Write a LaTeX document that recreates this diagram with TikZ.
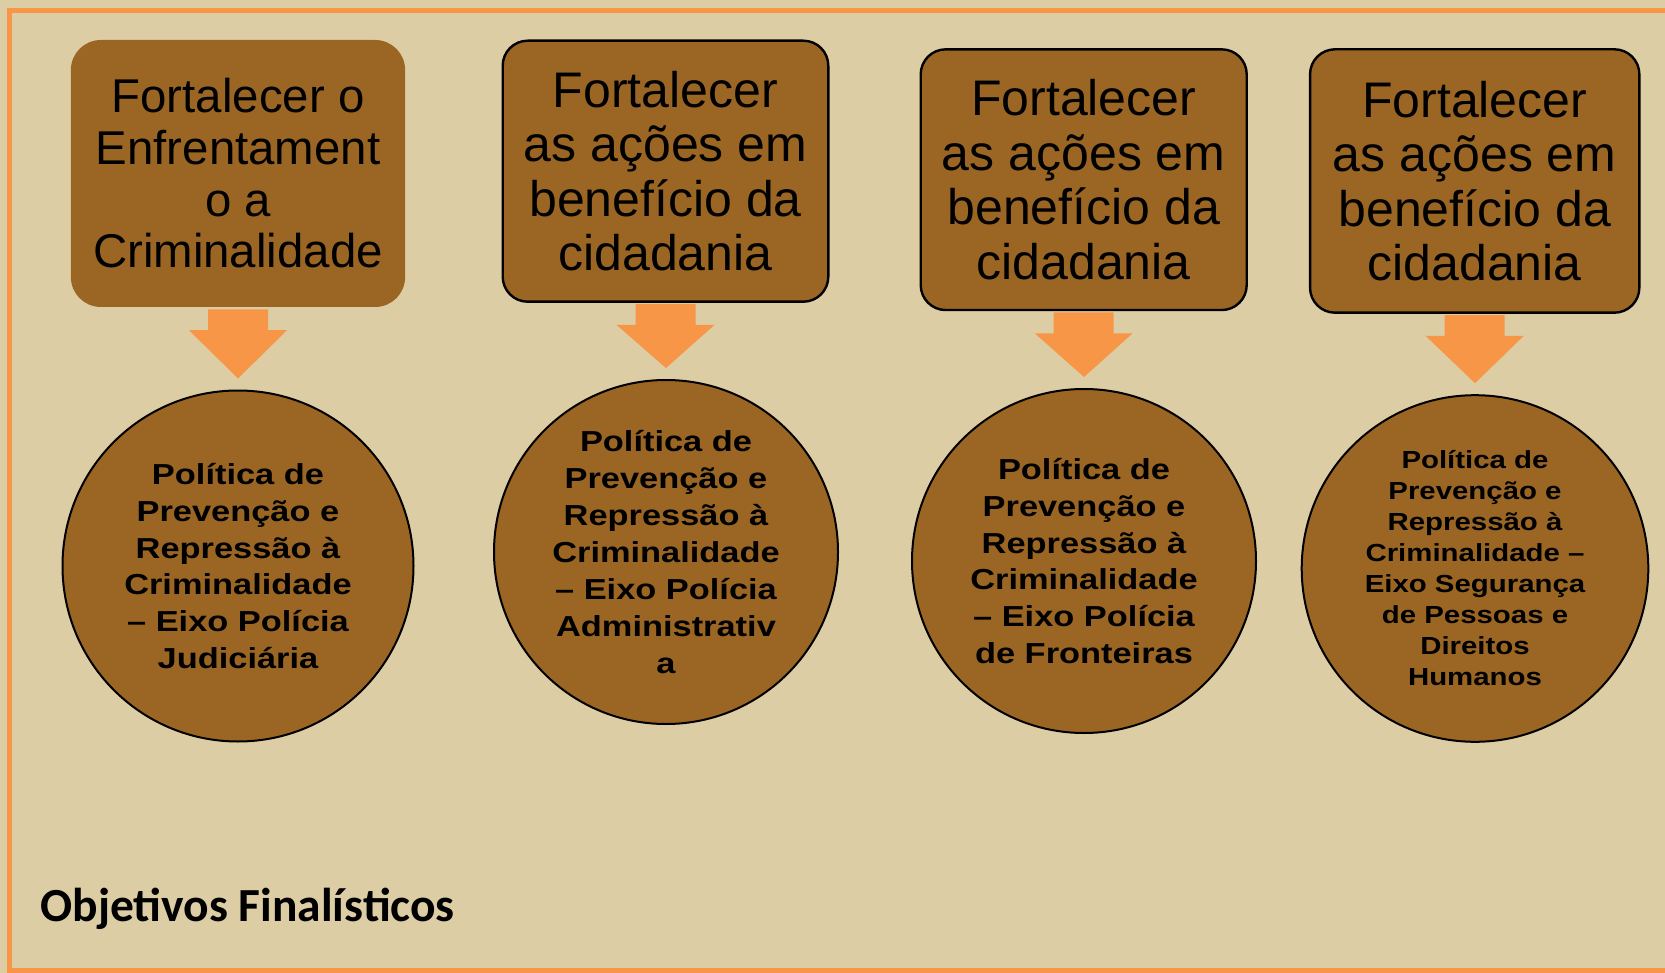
\documentclass[tikz,border=0pt]{standalone}
\usepackage{fontspec}
\setmainfont{Liberation Sans}
\newfontfamily\circfont[FakeStretch=1.19]{Liberation Sans Bold}
\newfontfamily\titlefont{Carlito Bold}
\usetikzlibrary{calc}
\definecolor{bgtan}{RGB}{220,205,165}
\definecolor{brownfill}{RGB}{155,102,35}
\definecolor{orangeline}{RGB}{247,150,70}
\newcommand{\blockarrow}[2]{%
  \fill[downarrow] ($(#1.south)+(-30,1.2)$) -- ($(#1.south)+(30,1.2)$) -- ($(#1.south)+(30,22)$) -- ($(#1.south)+(49,22)$) -- ($(#2.north)+(0,-11)$) -- ($(#1.south)+(-49,22)$) -- ($(#1.south)+(-30,22)$) -- cycle;}
\begin{document}
\begin{tikzpicture}[x=0.5pt,y=-0.5pt,
  topbox/.style={rectangle, rounded corners=12.5pt, fill=brownfill, draw=black, line width=1.2pt, inner sep=0pt, align=center, font=\fontsize{25pt}{27.2pt}\selectfont},
  circbox/.style={circle, fill=brownfill, draw=black, line width=1pt, inner sep=0pt, align=center, font=\circfont\fontsize{14.45pt}{18.45pt}\selectfont},
  downarrow/.style={fill=orangeline}]

\useasboundingbox (0,0) rectangle (1665,973);
\fill[bgtan] (0,0) rectangle (1665,973);
\draw[orangeline, line width=2.5pt] (9.5,10.5) rectangle (1690,970);

% top boxes
\node[topbox, draw=none, rounded corners=15pt, minimum width=167.15pt, minimum height=133.5pt,
      font=\fontsize{23.7pt}{25.85pt}\selectfont] (b1) at (238,173.5)
  {Fortalecer o\\Enfrentament\\o a\\Criminalidade};
\node[topbox, minimum width=162.8pt, minimum height=130.5pt] (b2) at (665.5,171.2)
  {Fortalecer\\as ações em\\benefício da\\cidadania};
\node[topbox, minimum width=163pt, minimum height=130.35pt] (b3) at (1083.7,179.7)
  {Fortalecer\\as ações em\\benefício da\\cidadania};
\node[topbox, minimum width=164.65pt, minimum height=131.7pt] (b4) at (1474.7,181)
  {Fortalecer\\as ações em\\benefício da\\cidadania};

% circles
\node[circbox, minimum size=175.5pt] (c1) at (238,566)
  {Política de\\Prevenção e\\Repressão à\\Criminalidade\\– Eixo Polícia\\Judiciária};
\node[circbox, minimum size=172pt] (c2) at (666,552)
  {Política de\\Prevenção e\\Repressão à\\Criminalidade\\– Eixo Polícia\\Administrativ\\a};
\node[circbox, minimum size=172pt] (c3) at (1084,561)
  {Política de\\Prevenção e\\Repressão à\\Criminalidade\\– Eixo Polícia\\de Fronteiras};
\node[circbox, minimum size=173.3pt, font=\circfont\fontsize{12.35pt}{15.5pt}\selectfont] (c4) at (1475,568.5)
  {Política de\\Prevenção e\\Repressão à\\Criminalidade –\\Eixo Segurança\\de Pessoas e\\Direitos\\Humanos};

% block arrows
\blockarrow{b1}{c1}
\blockarrow{b2}{c2}
\blockarrow{b3}{c3}
\blockarrow{b4}{c4}

% title
\node[anchor=base west, inner sep=0pt, font=\titlefont\fontsize{23.75pt}{28pt}\selectfont] (title) at (40,921.7) {Objetivos Finalísticos};
\end{tikzpicture}
\end{document}
